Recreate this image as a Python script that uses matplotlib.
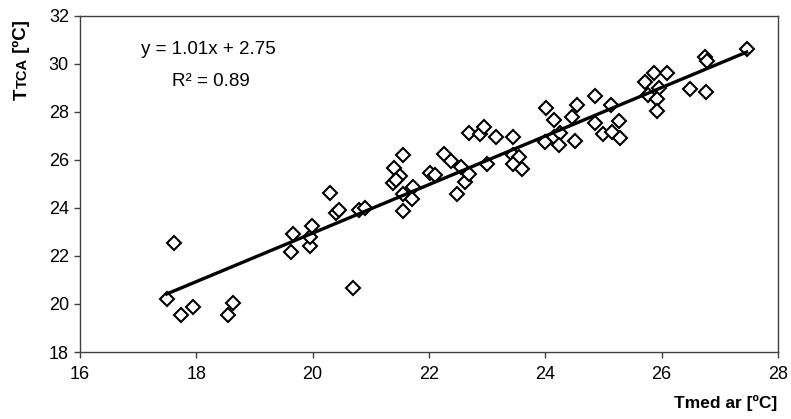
import matplotlib
matplotlib.use("Agg")
import matplotlib.pyplot as plt
import numpy as np

plt.rcParams['font.family'] = ['Liberation Sans', 'DejaVu Sans']

# Data: T med ar (x) vs T TCA (y)
tmed_ar = [17.49, 17.62, 17.73, 17.95, 18.54, 18.63, 20.70,
           19.62, 19.66, 19.96, 19.95, 19.98,
           20.29, 20.40, 20.46, 20.79, 20.90,
           21.40, 21.50, 21.38, 21.44, 21.56, 21.73, 21.56, 21.70, 21.56,
           22.02, 22.10, 22.25, 22.37, 22.48, 22.55, 22.62, 22.68, 22.68,
           22.87, 22.94, 22.99, 23.15, 23.44, 23.44, 23.54, 23.45, 23.60,
           24.01, 24.15, 24.00, 24.15, 24.25, 24.23, 24.46, 24.55, 24.51,
           24.86, 24.86, 25.00, 25.13, 25.14, 25.27, 25.29,
           25.72, 25.86, 26.10, 25.95, 25.77, 25.92, 25.92,
           26.48, 26.76, 26.75, 26.78, 27.46]
t_tca = [20.20, 22.55, 19.56, 19.86, 19.56, 20.04, 20.68,
         22.18, 22.92, 22.40, 22.80, 23.25,
         24.63, 23.77, 23.93, 23.93, 24.00,
         25.67, 25.32, 25.05, 25.15, 26.20, 24.88, 24.57, 24.39, 23.88,
         25.45, 25.36, 26.24, 25.96, 24.57, 25.71, 25.08, 25.43, 27.10,
         27.07, 27.38, 25.83, 26.93, 26.93, 26.20, 26.12, 25.82, 25.62,
         28.14, 27.66, 26.75, 26.96, 27.10, 26.61, 27.77, 28.28, 26.78,
         28.67, 27.52, 27.07, 28.28, 27.17, 27.63, 26.89,
         29.25, 29.60, 29.63, 28.98, 28.70, 28.52, 28.04,
         28.94, 28.83, 30.29, 30.12, 30.61]

slope = 1.01
intercept = 2.75
r2 = 0.89

x_ticks = [16, 18, 20, 22, 24, 26, 28]
y_ticks = [18, 20, 22, 24, 26, 28, 30, 32]

W, H = 791, 419
fig = plt.figure(figsize=(W / 100, H / 100), dpi=100)
ax = fig.add_axes([80 / W, 1 - 352 / H, (778 - 80) / W, (352 - 15.7) / H])

ax.plot(tmed_ar, t_tca, linestyle='none', marker='D', markersize=6.8,
        markerfacecolor='white', markeredgecolor='black', markeredgewidth=1.5,
        zorder=3)

xl = np.array([min(tmed_ar), max(tmed_ar)])
ax.plot(xl, slope * xl + intercept, color='black', linewidth=2.4, zorder=4)

ax.set_xlim(16, 28)
ax.set_ylim(18, 32)
ax.set_xticks(x_ticks)
ax.set_yticks(y_ticks)
ax.set_xticklabels([str(v) for v in x_ticks])
ax.set_yticklabels([str(v) for v in y_ticks])
ax.tick_params(axis='both', direction='out', length=4, width=1.0,
               color='#404040', labelsize=13, pad=4)
ax.tick_params(axis='x', pad=6)
for s in ax.spines.values():
    s.set_color('#404040')
    s.set_linewidth(1.0)

# equation text
fig.text(208 / W, 1 - 50 / H, f"y = {slope:.2f}x + {intercept:.2f}",
         ha='center', va='center', fontsize=13.5)
fig.text(211 / W, 1 - 81 / H, f"R\u00b2 = {r2:.2f}",
         ha='center', va='center', fontsize=13.5)

# x label
fig.text(777 / W, 1 - 403 / H, "Tmed ar [ºC]", ha='right', va='center',
         fontsize=12.5, fontweight='bold')

# y label: "T" + small "TCA" + " [ºC]" rotated
fig.canvas.draw()
renderer = fig.canvas.get_renderer()
x_base = 26.5
y_pos = H - 100.0
pieces = [("T", 13.5), ("TCA", 10.5), (" [ºC]", 13.5)]
for txt, fs in pieces:
    t = fig.text(x_base / W, y_pos / H, txt, rotation=90, rotation_mode='anchor',
                 ha='left', va='baseline', fontsize=fs, fontweight='bold')
    bb = t.get_window_extent(renderer=renderer)
    y_pos += bb.height

fig.savefig("out.png", dpi=100)
